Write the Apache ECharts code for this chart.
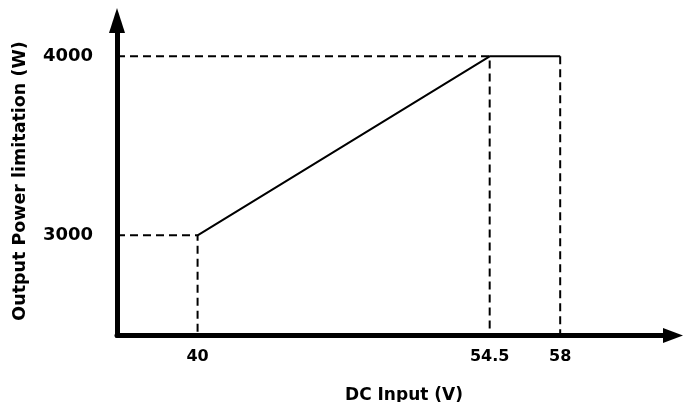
<!DOCTYPE html>
<html>
<head>
<meta charset="utf-8">
<script src="https://cdn.jsdelivr.net/npm/echarts@6/dist/echarts.min.js"></script>
<style>html,body{margin:0;padding:0;background:#fff;}#c{width:683px;height:402px;}</style>
</head>
<body>
<div id="c"></div>
<script>
// Data
var xTicks = [40, 54.5, 58];
var yTicks = [3000, 4000];
var curveX = [40, 54.5, 58];
var curveY = [3000, 4000, 4000];
var xRange = [36, 63.6];
var yRange = [2440, 4200];
var xTitle = 'DC Input (V)';
var yTitle = 'Output Power limitation (W)';

var curve = curveX.map(function (x, i) { return [x, curveY[i]]; });
// guide lines
var guide1 = [[xRange[0], curveY[0]], [curveX[0], curveY[0]], [curveX[0], yRange[0]]];
var guide2 = [[xRange[0], curveY[1]], [curveX[1], curveY[1]], [curveX[1], yRange[0]]];
var guide3 = [[curveX[2], curveY[2]], [curveX[2], yRange[0]]];

var font = 'DejaVu Sans';
var dashStyle = { color: '#000', width: 2, type: [8, 5] };
function plain(v) { return String(v); }

var chart = echarts.init(document.getElementById('c'));
chart.setOption({
  animation: false,
  grid: { left: 117, right: 10, top: 20.5, bottom: 66.5, containLabel: false, outerBoundsMode: 'none' },
  xAxis: {
    type: 'value', min: xRange[0], max: xRange[1],
    name: xTitle, nameLocation: 'middle', nameGap: 52,
    nameTextStyle: { fontFamily: font, fontWeight: 'bold', fontSize: 17, color: '#000', padding: [0, 0, 0, 18] },
    axisLine: { show: true, onZero: false, symbol: ['none', 'triangle'], symbolSize: [15, 20],
      lineStyle: { color: '#000', width: 5 } },
    axisTick: { show: false },
    splitLine: { show: false },
    axisLabel: { customValues: xTicks, formatter: plain, margin: 13, fontFamily: font, fontWeight: 'bold', fontSize: 16, color: '#000' }
  },
  yAxis: {
    type: 'value', min: yRange[0], max: yRange[1],
    name: yTitle, nameLocation: 'middle', nameGap: 88,
    nameTextStyle: { fontFamily: font, fontWeight: 'bold', fontSize: 17.5, color: '#000', padding: [0, 6, 0, 0] },
    axisLine: { show: true, onZero: false, symbol: ['none', 'triangle'], symbolSize: [16, 25],
      lineStyle: { color: '#000', width: 5 } },
    axisTick: { show: false },
    splitLine: { show: false },
    axisLabel: { customValues: yTicks, formatter: plain, margin: 24, fontFamily: font, fontWeight: 'bold', fontSize: 18, color: '#000' }
  },
  series: [
    { type: 'line', data: guide1, showSymbol: false, symbol: 'none', lineStyle: dashStyle, z: 1 },
    { type: 'line', data: guide2, showSymbol: false, symbol: 'none', lineStyle: dashStyle, z: 1 },
    { type: 'line', data: guide3, showSymbol: false, symbol: 'none', lineStyle: dashStyle, z: 1 },
    { type: 'line', data: curve, showSymbol: false, symbol: 'none', lineStyle: { color: '#000', width: 2 }, z: 2 }
  ]
});
</script>
</body>
</html>
